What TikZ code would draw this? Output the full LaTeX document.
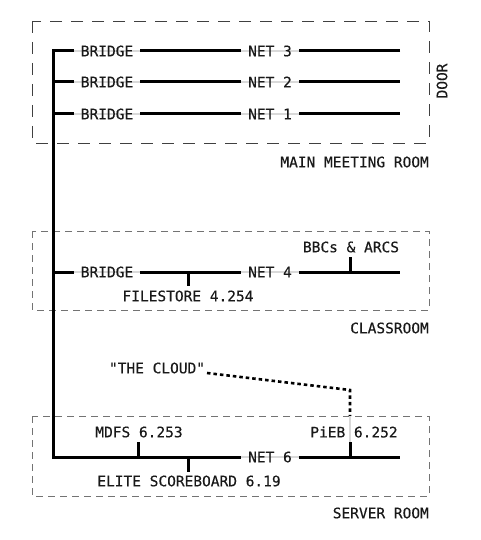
\documentclass[tikz,border=0pt]{standalone}
\usepackage{fontspec}
\setmonofont[FakeBold=0.3]{DejaVu Sans Mono}
\begin{document}
\begin{tikzpicture}[x=1pt,y=-1pt,
  bus/.style={line width=3pt},
  tick/.style={line width=3pt},
  lbl/.style={font=\ttfamily\fontsize{14.5}{16}\selectfont, inner sep=0pt, text=black!90},
  onbus/.style={lbl, fill=white, inner xsep=7pt, inner ysep=2pt,
    path picture={\draw[black!15, line width=2.2pt] (path picture bounding box.west) -- (path picture bounding box.east);}},
  roombig/.style={draw=black!75, line width=0.9pt, dash pattern=on 12pt off 9pt},
  room/.style={draw=black!55, line width=0.8pt, dash pattern=on 7pt off 5pt},
  cloudln/.style={line width=2.6pt, dash pattern=on 3.5pt off 3pt}]
\useasboundingbox (0,0) rectangle (480,540);

% rooms
\draw[roombig] (32,21) rectangle (429,143);
\draw[room] (32,231) rectangle (429,310);
\draw[room] (32,416) rectangle (429,496);
\node[lbl, anchor=east] (mmr) at (429,162) {MAIN MEETING ROOM};
\node[lbl, anchor=east] (cls) at (429,328) {CLASSROOM};
\node[lbl, anchor=east] (srv) at (429,513) {SERVER ROOM};
\node[lbl, rotate=90] (door) at (442,81) {DOOR};

% coordinates
\coordinate (b3) at (53,51);  \coordinate (e3) at (400,51);
\coordinate (b2) at (53,82);  \coordinate (e2) at (400,82);
\coordinate (b1) at (53,114); \coordinate (e1) at (400,114);
\coordinate (b4) at (53,272); \coordinate (e4) at (400,272);
\coordinate (b6) at (53,457); \coordinate (e6) at (400,457);

% backbone
\draw[bus] (e3) -- (b3) -- (b6) -- (e6);
\draw[bus] (b2) -- (e2);
\draw[bus] (b1) -- (e1);
\draw[bus] (b4) -- (e4);

% taps
\coordinate (fs) at (188,272); \coordinate (fsb) at (188,286);
\coordinate (bb) at (350,272); \coordinate (bbt) at (350,257);
\coordinate (md) at (138,457); \coordinate (mdt) at (138,442);
\coordinate (el) at (188,457); \coordinate (elb) at (188,472);
\coordinate (pi) at (350,457); \coordinate (pit) at (350,442);
\draw[tick] (fs) -- (fsb);
\draw[tick] (bb) -- (bbt);
\draw[tick] (md) -- (mdt);
\draw[tick] (el) -- (elb);
\draw[tick] (pi) -- (pit);

% cloud link
\node[lbl] (cloud) at (157,368) {"THE CLOUD"};
\coordinate (c0) at (207,373);
\coordinate (c1) at (350,390);
\coordinate (c2) at (350,416);
\draw[cloudln] (c0) -- (c1) -- (c2);
\draw[black!15, line width=2pt] (c2) -- (pit);

% bus labels
\node[onbus] (br3) at (107,51) {BRIDGE};
\node[onbus] (n3) at (270,51) {NET 3};
\node[onbus] (br2) at (107,82) {BRIDGE};
\node[onbus] (n2) at (270,82) {NET 2};
\node[onbus] (br1) at (107,114) {BRIDGE};
\node[onbus] (n1) at (270,114) {NET 1};
\node[onbus] (br4) at (107,272) {BRIDGE};
\node[onbus] (n4) at (270,272) {NET 4};
\node[onbus] (n6) at (270,457) {NET 6};

% device labels
\node[lbl] (fsl) at (188,296) {FILESTORE 4.254};
\node[lbl] (bbl) at (351,247) {BBCs \& ARCS};
\node[lbl] (mdl) at (139,432) {MDFS 6.253};
\node[lbl] (ell) at (189,481) {ELITE SCOREBOARD 6.19};
\node[lbl] (pil) at (354,432) {PiEB 6.252};
\end{tikzpicture}
\end{document}
